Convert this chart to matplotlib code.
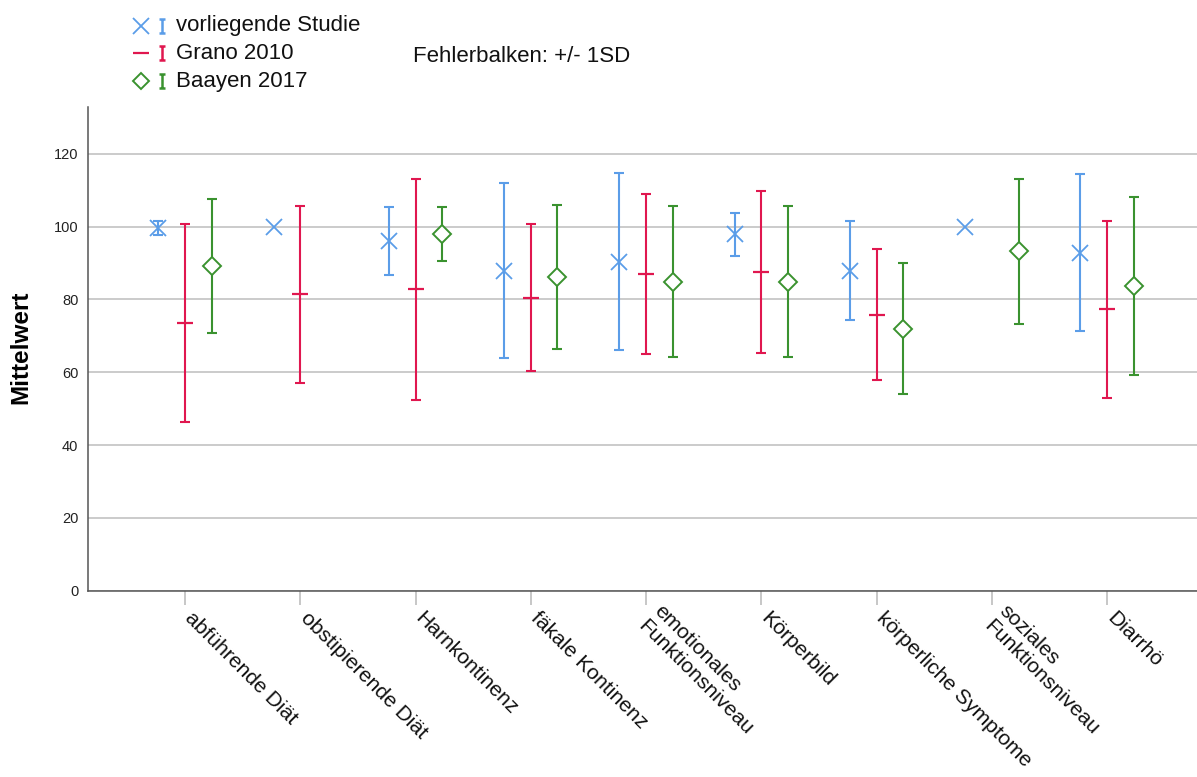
import numpy as np
import matplotlib
matplotlib.use("Agg")
import matplotlib.pyplot as plt
import matplotlib.transforms as mtransforms
from matplotlib.lines import Line2D
from matplotlib.path import Path

plt.rcParams['font.family'] = ['Liberation Sans', 'DejaVu Sans']

# Subscales of the quality-of-life questionnaire
categories = ["abführende Diät", "obstipierende Diät", "Harnkontinenz",
              "fäkale Kontinenz", "emotionales\nFunktionsniveau", "Körperbild",
              "körperliche Symptome", "soziales\nFunktionsniveau", "Diarrhö"]

# Means and standard deviations per study (nan = not reported)
study_mean = [99.7, 100.0, 96.1, 87.9, 90.4, 97.9, 87.9, 100.0, 92.9]
study_sd   = [2.0, 0.0, 9.3, 24.0, 24.4, 5.9, 13.6, 0.0, 21.6]

grano_mean = [73.5, 81.4, 82.8, 80.5, 87.0, 87.5, 75.8, np.nan, 77.3]
grano_sd   = [27.2, 24.4, 30.4, 20.2, 22.1, 22.3, 18.0, np.nan, 24.3]

baayen_mean = [89.2, np.nan, 98.0, 86.1, 84.9, 84.9, 71.9, 93.2, 83.7]
baayen_sd   = [18.5, np.nan, 7.3, 19.8, 20.8, 20.8, 18.0, 19.9, 24.5]

series_names = ["vorliegende Studie", "Grano 2010", "Baayen 2017"]
y_ticks = [0, 20, 40, 60, 80, 100, 120]

BLUE = "#5b9de8"
RED = "#e0174f"
GREEN = "#3a922f"

W, H = 1197, 777
fig = plt.figure(figsize=(W / 100, H / 100), dpi=100)
ax = fig.add_axes([88 / W, 1 - 590.6 / H, 1 - 88 / W, (590.6 - 107) / H])

x = np.arange(len(categories))
offset = 0.2315

series = [
    (study_mean, study_sd, BLUE, dict(marker='x', ms=11, mew=1.3), -offset),
    (grano_mean, grano_sd, RED, dict(marker='_', ms=11, mew=1.6), 0.0),
    (baayen_mean, baayen_sd, GREEN, dict(marker='D', ms=9.2, mew=1.4, mfc='white'), offset),
]

for mean, sd, color, mstyle, dx in series:
    mean = np.asarray(mean, float)
    sd = np.asarray(sd, float)
    has_bar = np.isfinite(sd) & (sd > 0)
    ax.errorbar(x[has_bar] + dx, mean[has_bar], yerr=sd[has_bar], fmt='none',
                ecolor=color, elinewidth=1.5, capsize=3.6, capthick=1.5, zorder=3)
    ok = np.isfinite(mean)
    ax.plot(x[ok] + dx, mean[ok], linestyle='none', color=color, mec=color,
            zorder=4, **mstyle)

ax.set_xlim(-0.842, 8.78)
ax.set_ylim(0, 132.9)
ax.set_yticks(y_ticks)
ax.set_yticklabels([str(v) for v in y_ticks], fontsize=10.5, color="#222222")
ax.yaxis.grid(True, color="#bdbdbd", linewidth=1.1)
ax.set_axisbelow(True)
ax.tick_params(axis='y', length=0, pad=7)

ax.set_xticks(x)
ax.set_xticklabels(categories, fontsize=15.2, rotation=-45, ha='left', va='center',
                   rotation_mode='anchor', color="#111111", linespacing=1.15)
ax.tick_params(axis='x', length=10, width=1.2, color="#bdbdbd", pad=8)
shift = mtransforms.ScaledTranslation(3 / 100, 0, fig.dpi_scale_trans)
for lbl in ax.get_xticklabels():
    lbl.set_transform(lbl.get_transform() + shift)

for side in ("top", "right"):
    ax.spines[side].set_visible(False)
for side in ("left", "bottom"):
    ax.spines[side].set_color("#555555")
    ax.spines[side].set_linewidth(1.1)

ax.set_ylabel("Mittelwert", fontsize=17.5, fontweight='bold')
ax.yaxis.set_label_coords(-(88 - 32) / (W - 88), (590.6 - 347) / (590.6 - 107))

# Legend: point marker plus error-bar glyph for each study
ibar = Path([(-0.45, 1), (0.45, 1), (0, 1), (0, -1), (-0.45, -1), (0.45, -1)],
            [Path.MOVETO, Path.LINETO, Path.MOVETO, Path.LINETO, Path.MOVETO, Path.LINETO])


def fx(px):
    return px / W


def fy(py):
    return 1 - py / H


rows_y = [25.5, 53.3, 81.0]
for (mean, sd, color, mstyle, dx), name, ry in zip(series, series_names, rows_y):
    st = dict(mstyle)
    if st['marker'] == 'D':
        st['ms'] = 8.5
    fig.add_artist(Line2D([fx(140.5)], [fy(ry)], transform=fig.transFigure,
                          linestyle='none', color=color, mec=color, **st))
    fig.add_artist(Line2D([fx(161.5)], [fy(ry)], transform=fig.transFigure,
                          linestyle='none', marker=ibar, ms=10.5, mew=1.8,
                          color=color, mec=color))
    fig.text(fx(176), fy(ry), name, fontsize=16, va='center', ha='left',
             color="#111111")

fig.text(fx(413), fy(57), "Fehlerbalken: +/- 1SD", fontsize=16, va='center',
         ha='left', color="#111111")

fig.savefig("out.png", dpi=100)
